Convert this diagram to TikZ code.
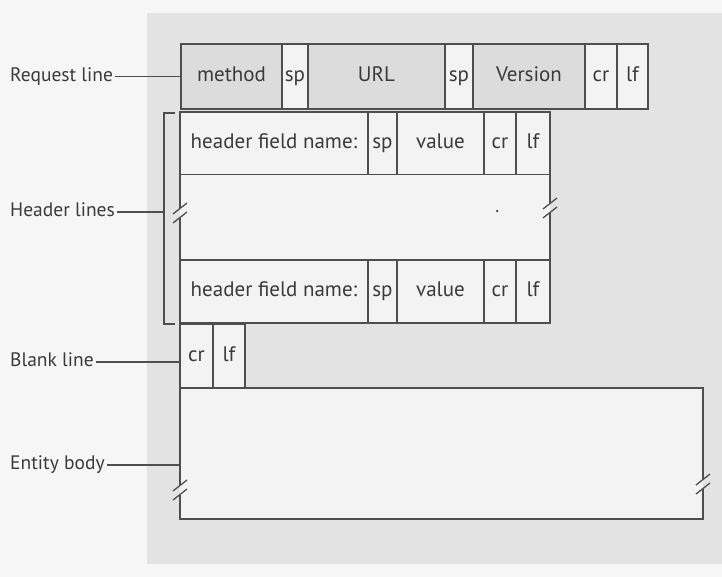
\documentclass[tikz,border=0pt]{standalone}
\usepackage{fontspec}
\setmainfont{PT Sans}
\definecolor{bgc}{HTML}{F6F6F6}
\definecolor{panelc}{HTML}{E3E3E3}
\definecolor{cellg}{HTML}{DCDCDC}
\definecolor{cellw}{HTML}{F3F3F3}
\definecolor{linec}{HTML}{4E4E4E}
\definecolor{textc}{HTML}{3A3A3A}
\begin{document}
\begin{tikzpicture}[x=1pt,y=-1pt,
  ln/.style={draw=linec, line width=1.3pt},
  cell/.style={draw=linec, line width=1.3pt, anchor=north west, inner sep=0pt, outer sep=0pt,
    minimum height=65pt, font=\fontsize{21}{25}\selectfont, text=textc, fill=cellw,
    text height=14.5pt, text depth=4.5pt},
  gcell/.style={cell, fill=cellg},
  lbl/.style={anchor=west, inner sep=2pt, font=\fontsize{19.5}{24}\selectfont, text=textc,
    text height=14pt, text depth=4.5pt},
  brk/.pic={\draw[ln] (-7,1) -- (7,-10); \draw[ln] (-7,10) -- (7,-1);}]
% background and panel
\fill[bgc] (0,0) rectangle (722,577);
\useasboundingbox (0,0) rectangle (722,577);
\fill[panelc] (147,13) rectangle (722,564);
% request line
\node[gcell, minimum width=101pt] (method) at (181,44) {method};
\node[cell, minimum width=26pt] (sp1) at (282,44) {sp};
\node[gcell, minimum width=137pt] (url) at (308,44) {URL};
\node[cell, minimum width=28pt] (sp2) at (445,44) {sp};
\node[gcell, minimum width=112pt] (ver) at (473,44) {Version};
\node[cell, minimum width=32pt] (rcr) at (585,44) {cr};
\node[cell, minimum width=31pt] (rlf) at (617,44) {lf};
% header line 1
\node[cell, minimum width=188pt, minimum height=63pt] (h1n) at (180,112) {header field name:};
\node[cell, minimum width=29pt, minimum height=63pt] (h1s) at (368,112) {sp};
\node[cell, minimum width=87pt, minimum height=63pt] (h1v) at (397,112) {value};
\node[cell, minimum width=32pt, minimum height=63pt] (h1c) at (484,112) {cr};
\node[cell, minimum width=34pt, minimum height=63pt] (h1l) at (516,112) {lf};
% middle (elided) box
\node[anchor=north west, fill=cellw, inner sep=0pt, outer sep=0pt, minimum width=370pt, minimum height=85pt] (mid) at (180,175) {};
\draw[ln] (mid.north west) -- (180,208) (180,218) -- (mid.south west);
\draw[ln] (mid.north east) -- (550,203) (550,213) -- (mid.south east);
\pic at (180,213) {brk};
\pic at (550,208) {brk};
\node[circle, fill=textc, inner sep=0pt, minimum size=2.5pt] (dot) at (497,211) {};
% header line 2
\node[cell, minimum width=188pt, minimum height=63pt] (h2n) at (180,260) {header field name:};
\node[cell, minimum width=29pt, minimum height=63pt] (h2s) at (368,260) {sp};
\node[cell, minimum width=87pt, minimum height=63pt] (h2v) at (397,260) {value};
\node[cell, minimum width=32pt, minimum height=63pt] (h2c) at (484,260) {cr};
\node[cell, minimum width=34pt, minimum height=63pt] (h2l) at (516,260) {lf};
% bracket for header lines
\coordinate (bt) at (164,113);
\coordinate (bb) at (164,324);
\coordinate (bm) at (164,212);
\draw[ln] (175,113) -- (bt) -- (bb) -- (175,324);
% blank line
\node[cell, minimum width=33pt, minimum height=64pt] (bcr) at (180,324) {cr};
\node[cell, minimum width=32pt, minimum height=64pt] (blf) at (213,324) {lf};
% entity body
\node[anchor=north west, fill=cellw, inner sep=0pt, outer sep=0pt, minimum width=523pt, minimum height=131pt] (ent) at (180,388) {};
\draw[ln] (180,485) -- (ent.north west) -- (ent.north east) -- (703,479);
\draw[ln] (180,495) -- (ent.south west) -- (ent.south east) -- (703,489);
\pic at (180,490) {brk};
\pic at (703,484) {brk};
% labels
\node[lbl] (lreq) at (8,76.5) {Request line};
\draw[ln] (lreq.east) -- (method.west);
\node[lbl] (lhdr) at (8,212) {Header lines};
\draw[ln] (lhdr.east) -- (bm);
\node[lbl] (lblank) at (8,362) {Blank line};
\draw[ln] (lblank.east) -- (lblank.east -| bcr.west);
\node[lbl] (lent) at (8,465) {Entity body};
\draw[ln] (lent.east) -- (lent.east -| ent.west);
\end{tikzpicture}
\end{document}
